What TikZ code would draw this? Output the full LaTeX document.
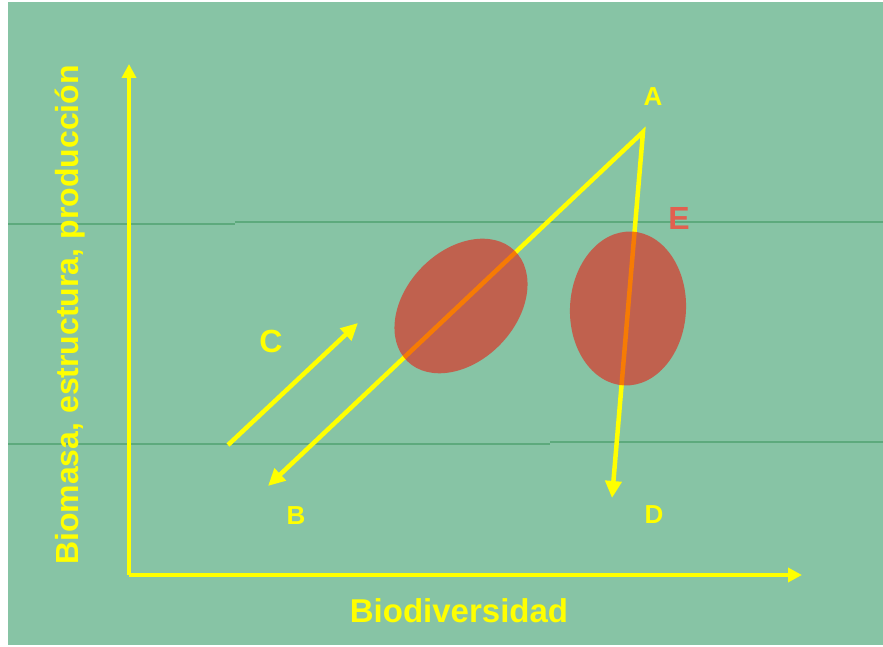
\documentclass[tikz,border=0pt]{standalone}
\usepackage{fontspec}
\setmainfont{Liberation Sans}
\usetikzlibrary{arrows.meta}
\definecolor{bggreen}{HTML}{87C4A5}
\definecolor{gridgreen}{HTML}{5DAA7D}
\definecolor{ylw}{HTML}{FFFF00}
\definecolor{blob}{HTML}{F01008}
\definecolor{elabel}{HTML}{E2604F}
\tikzset{
  axisline/.style={ylw, line width=3.5pt, -{Triangle[length=14pt,width=14pt]}},
  yline/.style={ylw, line width=4.5pt, line join=miter},
  yarrow/.style={yline, -{Triangle[length=17pt,width=16pt]}},
  ybiarrow/.style={yline, {Triangle[length=17pt,width=16pt]}-{Triangle[length=17pt,width=16pt]}},
  thin green/.style={gridgreen, line width=1.5pt},
  blobstyle/.style={fill=blob, fill opacity=0.55},
  biglabel/.style={text=ylw, font=\bfseries\fontsize{33}{36}\selectfont, inner sep=0pt},
  letter/.style={text=ylw, font=\bfseries\fontsize{26}{30}\selectfont, inner sep=0pt},
  letterbig/.style={font=\bfseries\fontsize{32}{36}\selectfont, inner sep=0pt}
}
\begin{document}
\begin{tikzpicture}[x=1pt,y=1pt]
\useasboundingbox (0,0) rectangle (883,647);
\fill[white] (0,0) rectangle (883,647);
\fill[bggreen] (8,2) rectangle (883,645);
% thin horizontal lines
\draw[thin green] (8,423) -- (235,423);
\draw[thin green] (235,425) -- (883,425);
\draw[thin green] (8,203) -- (550,203);
\draw[thin green] (550,205) -- (883,205);
% coordinates
\coordinate (O) at (129,72);
\coordinate (ytip) at (129,583);
\coordinate (xtip) at (802,72);
\coordinate (apex) at (643,515);
\coordinate (btip) at (268,161);
\coordinate (dtip) at (612,149);
\coordinate (cstart) at (228,202);
\coordinate (cend) at (358,324);
% axes
\draw[axisline] (O) -- (ytip);
\draw[axisline] (O) -- (xtip);
% yellow lines
\draw[ybiarrow] (btip) -- (apex) -- (dtip);
\draw[yarrow] (cstart) -- (cend);
% ellipses
\fill[blobstyle, rotate around={46:(461,341)}] (461,341) ellipse [x radius=77, y radius=55];
\fill[blobstyle, rotate around={-3:(628,338.5)}] (628,338.5) ellipse [x radius=58, y radius=77];
% labels
\node[letter] (la) at (653,550) {A};
\node[letter] (lb) at (296,131) {B};
\node[letterbig, text=ylw] (lc) at (271,306) {C};
\node[letter] (ld) at (654,132) {D};
\node[letterbig, text=elabel] (le) at (679,428) {E};
\node[biglabel] (xl) at (459,36) {Biodiversidad};
\node[biglabel, rotate=90, font=\bfseries\fontsize{32}{36}\selectfont] (yl) at (70,332) {Biomasa, estructura, producción};
\end{tikzpicture}
\end{document}
